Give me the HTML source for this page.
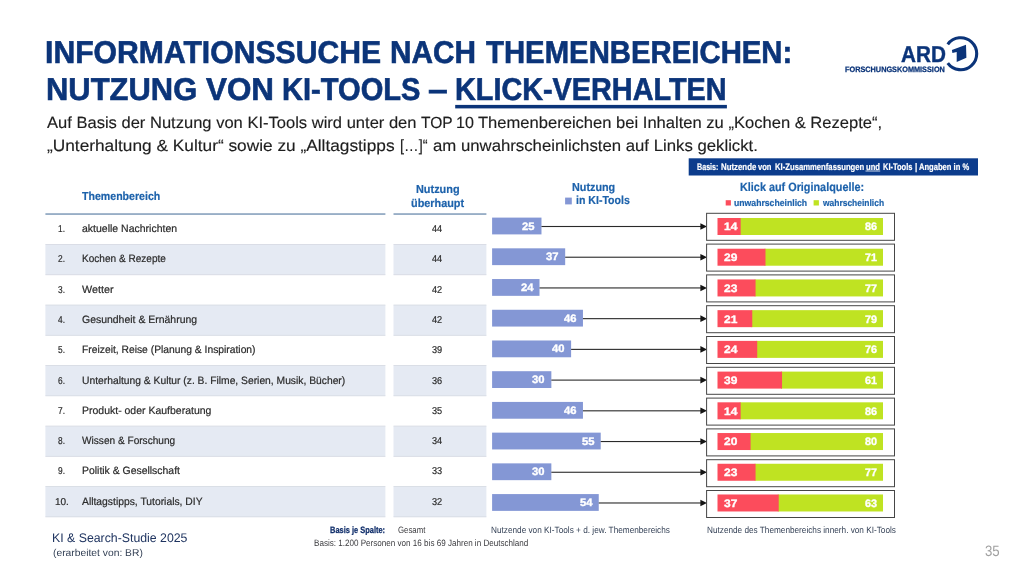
<!DOCTYPE html>
<html lang="de"><head><meta charset="utf-8"><title>Informationssuche nach Themenbereichen</title>
<style>
html,body{margin:0;padding:0;background:#fff}
body{text-rendering:geometricPrecision;width:1024px;height:576px;position:relative;overflow:hidden;font-family:"Liberation Sans",sans-serif}
.slide{position:absolute;left:0;top:0;width:1024px;height:576px}
.txt{will-change:transform}
.t{position:absolute;white-space:pre;line-height:1;transform-origin:0 0;display:block}
.ttl{-webkit-text-stroke:0.6px #0b3479}
.ard{-webkit-text-stroke:0.4px #0b3479}
.sub{-webkit-text-stroke:0.15px #1e1e1e}
.lb{-webkit-text-stroke:0.35px #fff}
.bj{-webkit-text-stroke:0.25px #112f6b}
.rw{-webkit-text-stroke:0.2px #2a2a2a}
.fk{-webkit-text-stroke:0.25px #0b3479}
.hd{-webkit-text-stroke:0.2px #1d62ab}
.bn{-webkit-text-stroke:0.2px #fff}
</style></head>
<body>
<svg class="slide" width="1024" height="576" viewBox="0 0 1024 576">
<rect x="45.40" y="244.56" width="340.00" height="30.26" fill="#e5eaf3"/>
<rect x="393.50" y="244.56" width="92.90" height="30.26" fill="#e5eaf3"/>
<rect x="45.40" y="305.08" width="340.00" height="30.26" fill="#e5eaf3"/>
<rect x="393.50" y="305.08" width="92.90" height="30.26" fill="#e5eaf3"/>
<rect x="45.40" y="365.60" width="340.00" height="30.26" fill="#e5eaf3"/>
<rect x="393.50" y="365.60" width="92.90" height="30.26" fill="#e5eaf3"/>
<rect x="45.40" y="426.12" width="340.00" height="30.26" fill="#e5eaf3"/>
<rect x="393.50" y="426.12" width="92.90" height="30.26" fill="#e5eaf3"/>
<rect x="45.40" y="486.64" width="340.00" height="30.26" fill="#e5eaf3"/>
<rect x="393.50" y="486.64" width="92.90" height="30.26" fill="#e5eaf3"/>
<rect x="45.40" y="244.11" width="340.00" height="0.80" fill="#d4d8e1"/>
<rect x="393.50" y="244.11" width="92.90" height="0.80" fill="#d4d8e1"/>
<rect x="45.40" y="274.37" width="340.00" height="0.80" fill="#d4d8e1"/>
<rect x="393.50" y="274.37" width="92.90" height="0.80" fill="#d4d8e1"/>
<rect x="45.40" y="304.63" width="340.00" height="0.80" fill="#d4d8e1"/>
<rect x="393.50" y="304.63" width="92.90" height="0.80" fill="#d4d8e1"/>
<rect x="45.40" y="334.89" width="340.00" height="0.80" fill="#d4d8e1"/>
<rect x="393.50" y="334.89" width="92.90" height="0.80" fill="#d4d8e1"/>
<rect x="45.40" y="365.15" width="340.00" height="0.80" fill="#d4d8e1"/>
<rect x="393.50" y="365.15" width="92.90" height="0.80" fill="#d4d8e1"/>
<rect x="45.40" y="395.41" width="340.00" height="0.80" fill="#d4d8e1"/>
<rect x="393.50" y="395.41" width="92.90" height="0.80" fill="#d4d8e1"/>
<rect x="45.40" y="425.67" width="340.00" height="0.80" fill="#d4d8e1"/>
<rect x="393.50" y="425.67" width="92.90" height="0.80" fill="#d4d8e1"/>
<rect x="45.40" y="455.93" width="340.00" height="0.80" fill="#d4d8e1"/>
<rect x="393.50" y="455.93" width="92.90" height="0.80" fill="#d4d8e1"/>
<rect x="45.40" y="486.19" width="340.00" height="0.80" fill="#d4d8e1"/>
<rect x="393.50" y="486.19" width="92.90" height="0.80" fill="#d4d8e1"/>
<rect x="45.40" y="516.45" width="340.00" height="0.80" fill="#d4d8e1"/>
<rect x="393.50" y="516.45" width="92.90" height="0.80" fill="#d4d8e1"/>
<rect x="492.10" y="217.60" width="49.38" height="16.80" fill="#8497d5"/>
<rect x="541.48" y="225.95" width="159.52" height="1.10" fill="#2a2a2a"/>
<polygon points="700.4,223.20 707,226.50 700.4,229.80" fill="#151515"/>
<rect x="706.60" y="213.30" width="187.90" height="27.00" fill="#fff" stroke="#464646" stroke-width="1"/>
<rect x="739.67" y="218.00" width="143.33" height="17.00" fill="#bfe322"/>
<rect x="717.50" y="218.00" width="23.17" height="17.00" fill="#fc4c5c"/>
<rect x="492.10" y="248.32" width="73.08" height="16.80" fill="#8497d5"/>
<rect x="565.18" y="256.67" width="135.82" height="1.10" fill="#2a2a2a"/>
<polygon points="700.4,253.92 707,257.22 700.4,260.52" fill="#151515"/>
<rect x="706.60" y="244.10" width="187.90" height="27.00" fill="#fff" stroke="#464646" stroke-width="1"/>
<rect x="764.50" y="248.72" width="118.50" height="17.00" fill="#bfe322"/>
<rect x="717.50" y="248.72" width="47.99" height="17.00" fill="#fc4c5c"/>
<rect x="492.10" y="279.04" width="47.40" height="16.80" fill="#8497d5"/>
<rect x="539.50" y="287.39" width="161.50" height="1.10" fill="#2a2a2a"/>
<polygon points="700.4,284.64 707,287.94 700.4,291.24" fill="#151515"/>
<rect x="706.60" y="274.90" width="187.90" height="27.00" fill="#fff" stroke="#464646" stroke-width="1"/>
<rect x="754.57" y="279.44" width="128.44" height="17.00" fill="#bfe322"/>
<rect x="717.50" y="279.44" width="38.06" height="17.00" fill="#fc4c5c"/>
<rect x="492.10" y="309.76" width="90.85" height="16.80" fill="#8497d5"/>
<rect x="582.95" y="318.11" width="118.05" height="1.10" fill="#2a2a2a"/>
<polygon points="700.4,315.36 707,318.66 700.4,321.96" fill="#151515"/>
<rect x="706.60" y="305.70" width="187.90" height="27.00" fill="#fff" stroke="#464646" stroke-width="1"/>
<rect x="751.25" y="310.16" width="131.75" height="17.00" fill="#bfe322"/>
<rect x="717.50" y="310.16" width="34.76" height="17.00" fill="#fc4c5c"/>
<rect x="492.10" y="340.48" width="79.00" height="16.80" fill="#8497d5"/>
<rect x="571.10" y="348.83" width="129.90" height="1.10" fill="#2a2a2a"/>
<polygon points="700.4,346.08 707,349.38 700.4,352.68" fill="#151515"/>
<rect x="706.60" y="336.50" width="187.90" height="27.00" fill="#fff" stroke="#464646" stroke-width="1"/>
<rect x="756.22" y="340.88" width="126.78" height="17.00" fill="#bfe322"/>
<rect x="717.50" y="340.88" width="39.72" height="17.00" fill="#fc4c5c"/>
<rect x="492.10" y="371.20" width="59.25" height="16.80" fill="#8497d5"/>
<rect x="551.35" y="379.55" width="149.65" height="1.10" fill="#2a2a2a"/>
<polygon points="700.4,376.80 707,380.10 700.4,383.40" fill="#151515"/>
<rect x="706.60" y="367.30" width="187.90" height="27.00" fill="#fff" stroke="#464646" stroke-width="1"/>
<rect x="781.04" y="371.60" width="101.95" height="17.00" fill="#bfe322"/>
<rect x="717.50" y="371.60" width="64.55" height="17.00" fill="#fc4c5c"/>
<rect x="492.10" y="401.92" width="90.85" height="16.80" fill="#8497d5"/>
<rect x="582.95" y="410.27" width="118.05" height="1.10" fill="#2a2a2a"/>
<polygon points="700.4,407.52 707,410.82 700.4,414.12" fill="#151515"/>
<rect x="706.60" y="398.10" width="187.90" height="27.00" fill="#fff" stroke="#464646" stroke-width="1"/>
<rect x="739.67" y="402.32" width="143.33" height="17.00" fill="#bfe322"/>
<rect x="717.50" y="402.32" width="23.17" height="17.00" fill="#fc4c5c"/>
<rect x="492.10" y="432.64" width="108.62" height="16.80" fill="#8497d5"/>
<rect x="600.73" y="440.99" width="100.27" height="1.10" fill="#2a2a2a"/>
<polygon points="700.4,438.24 707,441.54 700.4,444.84" fill="#151515"/>
<rect x="706.60" y="428.90" width="187.90" height="27.00" fill="#fff" stroke="#464646" stroke-width="1"/>
<rect x="749.60" y="433.04" width="133.40" height="17.00" fill="#bfe322"/>
<rect x="717.50" y="433.04" width="33.10" height="17.00" fill="#fc4c5c"/>
<rect x="492.10" y="463.36" width="59.25" height="16.80" fill="#8497d5"/>
<rect x="551.35" y="471.71" width="149.65" height="1.10" fill="#2a2a2a"/>
<polygon points="700.4,468.96 707,472.26 700.4,475.56" fill="#151515"/>
<rect x="706.60" y="459.70" width="187.90" height="27.00" fill="#fff" stroke="#464646" stroke-width="1"/>
<rect x="754.57" y="463.76" width="128.44" height="17.00" fill="#bfe322"/>
<rect x="717.50" y="463.76" width="38.06" height="17.00" fill="#fc4c5c"/>
<rect x="492.10" y="494.08" width="106.65" height="16.80" fill="#8497d5"/>
<rect x="598.75" y="502.43" width="102.25" height="1.10" fill="#2a2a2a"/>
<polygon points="700.4,499.68 707,502.98 700.4,506.28" fill="#151515"/>
<rect x="706.60" y="490.50" width="187.90" height="27.00" fill="#fff" stroke="#464646" stroke-width="1"/>
<rect x="777.74" y="494.48" width="105.27" height="17.00" fill="#bfe322"/>
<rect x="717.50" y="494.48" width="61.23" height="17.00" fill="#fc4c5c"/>
<rect x="455.20" y="104.90" width="271.70" height="3.50" fill="#0b3479"/>
<rect x="688.70" y="158.30" width="289.30" height="17.20" fill="#0c3c8c"/>
<rect x="865.50" y="170.60" width="14.70" height="0.80" fill="#ffffff"/>
<rect x="45.40" y="213.30" width="340.00" height="1.50" fill="#7f9bb8"/>
<rect x="393.50" y="213.30" width="92.90" height="1.50" fill="#7f9bb8"/>
<rect x="565.10" y="197.60" width="6.70" height="6.80" fill="#8497d5"/>
<rect x="725.70" y="200.20" width="5.20" height="5.30" fill="#fc4c5c"/>
<rect x="813.60" y="200.20" width="5.30" height="5.30" fill="#bfe322"/>
<g>
<path d="M 947.76 44.30 A 16.0 16.0 0 1 1 947.76 63.10" fill="none" stroke="#0b3479" stroke-width="3.1"/>
<path d="M 966.0 44.8 L 951.9 50.1 L 952.4 52.9 L 956.7 52.0 L 956.7 62.0 L 966.4 57.8 Z" fill="#0b3479"/>
</g>
</svg>
<div class="slide txt">
<span class="t ttl" style="left:45.09px;top:37px;font-size:31.5px;font-weight:700;color:#0b3479;transform:scaleX(0.9572)">INFORMATIONSSUCHE</span>
<span class="t ttl" style="left:390.01px;top:37px;font-size:31.5px;font-weight:700;color:#0b3479;transform:scaleX(0.9456)">NACH</span>
<span class="t ttl" style="left:485.60px;top:37px;font-size:31.5px;font-weight:700;color:#0b3479;transform:scaleX(0.9310)">THEMENBEREICHEN:</span>
<span class="t ttl" style="left:45.54px;top:74px;font-size:31.5px;font-weight:700;color:#0b3479;transform:scaleX(0.9819)">NUTZUNG</span>
<span class="t ttl" style="left:205.60px;top:74px;font-size:31.5px;font-weight:700;color:#0b3479;transform:scaleX(0.9968)">VON</span>
<span class="t ttl" style="left:281.90px;top:74px;font-size:31.5px;font-weight:700;color:#0b3479;transform:scaleX(0.9234)">KI-TOOLS</span>
<span class="t ttl" style="left:428.10px;top:74px;font-size:31.5px;font-weight:700;color:#0b3479;transform:scaleX(1.1265)">–</span>
<span class="t ttl" style="left:455.07px;top:74px;font-size:31.5px;font-weight:700;color:#0b3479;transform:scaleX(0.9146)">KLICK-VERHALTEN</span>
<span class="t sub" style="left:46.50px;top:115px;font-size:16.2px;font-weight:400;color:#1e1e1e;transform:scaleX(1.0216)">Auf Basis der Nutzung von KI-Tools wird unter den</span>
<span class="t sub" style="left:421.00px;top:115px;font-size:16.2px;font-weight:400;color:#1e1e1e;transform:scaleX(0.9600)">TOP</span>
<span class="t sub" style="left:455.91px;top:115px;font-size:16.2px;font-weight:400;color:#1e1e1e;transform:scaleX(0.9910)">10</span>
<span class="t sub" style="left:478.10px;top:115px;font-size:16.2px;font-weight:400;color:#1e1e1e;transform:scaleX(1.0231)">Themenbereichen bei Inhalten zu „Kochen &amp; Rezepte“,</span>
<span class="t sub" style="left:47.00px;top:138px;font-size:16.2px;font-weight:400;color:#1e1e1e;transform:scaleX(1.0670)">„Unterhaltung &amp; Kultur“ sowie zu „Alltagstipps</span>
<span class="t sub" style="left:399.70px;top:138px;font-size:16.2px;font-weight:400;color:#1e1e1e;transform:scaleX(0.9012)">[…]“</span>
<span class="t sub" style="left:433.10px;top:138px;font-size:16.2px;font-weight:400;color:#1e1e1e;transform:scaleX(1.0347)">am unwahrscheinlichsten auf Links geklickt.</span>
<span class="t ard" style="left:901.00px;top:43px;font-size:23px;font-weight:700;color:#0b3479;transform:scaleX(0.9000)">ARD</span>
<span class="t fk" style="left:845.00px;top:66px;font-size:7.8px;font-weight:700;color:#0b3479;transform:scaleX(0.9371)">FORSCHUNGSKOMMISSION</span>
<span class="t bn" style="left:697.25px;top:163px;font-size:9.5px;font-weight:700;color:#ffffff;transform:scaleX(0.7531)">Basis:</span>
<span class="t bn" style="left:720.90px;top:163px;font-size:9.5px;font-weight:700;color:#ffffff;transform:scaleX(0.8265)">Nutzende</span>
<span class="t bn" style="left:758.40px;top:163px;font-size:9.5px;font-weight:700;color:#ffffff;transform:scaleX(0.7960)">von</span>
<span class="t bn" style="left:774.60px;top:163px;font-size:9.5px;font-weight:700;color:#ffffff;transform:scaleX(0.8089)">KI-Zusammenfassungen</span>
<span class="t bn" style="left:865.90px;top:163px;font-size:9.5px;font-weight:700;color:#ffffff;transform:scaleX(0.8009)">und</span>
<span class="t bn" style="left:882.60px;top:163px;font-size:9.5px;font-weight:700;color:#ffffff;transform:scaleX(0.7890)">KI-Tools</span>
<span class="t bn" style="left:915.00px;top:163px;font-size:9.5px;font-weight:700;color:#ffffff;transform:scaleX(0.8500)">|</span>
<span class="t bn" style="left:919.20px;top:163px;font-size:9.5px;font-weight:700;color:#ffffff;transform:scaleX(0.7986)">Angaben in %</span>
<span class="t hd" style="left:82.10px;top:191px;font-size:11.6px;font-weight:700;color:#1d62ab;transform:scaleX(0.9135)">Themenbereich</span>
<span class="t hd" style="left:415.75px;top:184px;font-size:11.6px;font-weight:700;color:#1d62ab;transform:scaleX(0.9400)">Nutzung</span>
<span class="t hd" style="left:410.75px;top:198px;font-size:11.6px;font-weight:700;color:#1d62ab;transform:scaleX(0.9372)">überhaupt</span>
<span class="t hd" style="left:571.90px;top:182px;font-size:11.6px;font-weight:700;color:#1d62ab;transform:scaleX(0.9314)">Nutzung</span>
<span class="t hd" style="left:575.60px;top:195px;font-size:11.6px;font-weight:700;color:#1d62ab;transform:scaleX(0.9115)">in KI-Tools</span>
<span class="t hd" style="left:740.20px;top:181px;font-size:12px;font-weight:700;color:#1d62ab;transform:scaleX(0.9035)">Klick auf Originalquelle:</span>
<span class="t hd" style="left:733.60px;top:198px;font-size:9.4px;font-weight:700;color:#1d62ab;transform:scaleX(0.9238)">unwahrscheinlich</span>
<span class="t hd" style="left:822.70px;top:198px;font-size:9.4px;font-weight:700;color:#1d62ab;transform:scaleX(0.9014)">wahrscheinlich</span>
<span class="t rw" style="left:58.15px;top:225px;font-size:10px;font-weight:400;color:#2a2a2a;transform:scaleX(0.8332)">1.</span>
<span class="t rw" style="left:82.00px;top:224px;font-size:10.6px;font-weight:400;color:#2a2a2a;transform:scaleX(0.9907)">aktuelle Nachrichten</span>
<span class="t rw" style="left:432.00px;top:225px;font-size:10px;font-weight:400;color:#2a2a2a;transform:scaleX(0.9168)">44</span>
<span class="t lb" style="left:522.48px;top:222px;font-size:10.8px;font-weight:700;color:#ffffff;transform:scaleX(1.0413)">25</span>
<span class="t lb" style="left:723.90px;top:222px;font-size:10.8px;font-weight:700;color:#ffffff;transform:scaleX(1.1079)">14</span>
<span class="t lb" style="left:864.60px;top:222px;font-size:10.8px;font-weight:700;color:#ffffff;transform:scaleX(0.9996)">86</span>
<span class="t rw" style="left:58.15px;top:255px;font-size:10px;font-weight:400;color:#2a2a2a;transform:scaleX(0.8332)">2.</span>
<span class="t rw" style="left:82.00px;top:254px;font-size:10.6px;font-weight:400;color:#2a2a2a;transform:scaleX(0.9497)">Kochen &amp; Rezepte</span>
<span class="t rw" style="left:432.00px;top:255px;font-size:10px;font-weight:400;color:#2a2a2a;transform:scaleX(0.9168)">44</span>
<span class="t lb" style="left:546.18px;top:252px;font-size:10.8px;font-weight:700;color:#ffffff;transform:scaleX(1.0413)">37</span>
<span class="t lb" style="left:723.90px;top:253px;font-size:10.8px;font-weight:700;color:#ffffff;transform:scaleX(1.1079)">29</span>
<span class="t lb" style="left:864.60px;top:253px;font-size:10.8px;font-weight:700;color:#ffffff;transform:scaleX(0.9996)">71</span>
<span class="t rw" style="left:58.15px;top:286px;font-size:10px;font-weight:400;color:#2a2a2a;transform:scaleX(0.8332)">3.</span>
<span class="t rw" style="left:82.00px;top:285px;font-size:10.6px;font-weight:400;color:#2a2a2a;transform:scaleX(1.0166)">Wetter</span>
<span class="t rw" style="left:432.00px;top:286px;font-size:10px;font-weight:400;color:#2a2a2a;transform:scaleX(0.9168)">42</span>
<span class="t lb" style="left:520.50px;top:283px;font-size:10.8px;font-weight:700;color:#ffffff;transform:scaleX(1.0413)">24</span>
<span class="t lb" style="left:723.90px;top:284px;font-size:10.8px;font-weight:700;color:#ffffff;transform:scaleX(1.1079)">23</span>
<span class="t lb" style="left:864.60px;top:284px;font-size:10.8px;font-weight:700;color:#ffffff;transform:scaleX(0.9996)">77</span>
<span class="t rw" style="left:58.15px;top:316px;font-size:10px;font-weight:400;color:#2a2a2a;transform:scaleX(0.8332)">4.</span>
<span class="t rw" style="left:82.00px;top:315px;font-size:10.6px;font-weight:400;color:#2a2a2a;transform:scaleX(0.9870)">Gesundheit &amp; Ernährung</span>
<span class="t rw" style="left:432.00px;top:316px;font-size:10px;font-weight:400;color:#2a2a2a;transform:scaleX(0.9168)">42</span>
<span class="t lb" style="left:563.95px;top:314px;font-size:10.8px;font-weight:700;color:#ffffff;transform:scaleX(1.0413)">46</span>
<span class="t lb" style="left:723.90px;top:315px;font-size:10.8px;font-weight:700;color:#ffffff;transform:scaleX(1.1079)">21</span>
<span class="t lb" style="left:864.60px;top:315px;font-size:10.8px;font-weight:700;color:#ffffff;transform:scaleX(0.9996)">79</span>
<span class="t rw" style="left:58.15px;top:346px;font-size:10px;font-weight:400;color:#2a2a2a;transform:scaleX(0.8332)">5.</span>
<span class="t rw" style="left:82.00px;top:345px;font-size:10.6px;font-weight:400;color:#2a2a2a;transform:scaleX(0.9726)">Freizeit, Reise (Planung &amp; Inspiration)</span>
<span class="t rw" style="left:432.00px;top:346px;font-size:10px;font-weight:400;color:#2a2a2a;transform:scaleX(0.9168)">39</span>
<span class="t lb" style="left:552.10px;top:344px;font-size:10.8px;font-weight:700;color:#ffffff;transform:scaleX(1.0413)">40</span>
<span class="t lb" style="left:723.90px;top:345px;font-size:10.8px;font-weight:700;color:#ffffff;transform:scaleX(1.1079)">24</span>
<span class="t lb" style="left:864.60px;top:345px;font-size:10.8px;font-weight:700;color:#ffffff;transform:scaleX(0.9996)">76</span>
<span class="t rw" style="left:58.15px;top:377px;font-size:10px;font-weight:400;color:#2a2a2a;transform:scaleX(0.8332)">6.</span>
<span class="t rw" style="left:82.00px;top:376px;font-size:10.6px;font-weight:400;color:#2a2a2a;transform:scaleX(0.9719)">Unterhaltung &amp; Kultur (z. B. Filme, Serien, Musik, Bücher)</span>
<span class="t rw" style="left:432.00px;top:377px;font-size:10px;font-weight:400;color:#2a2a2a;transform:scaleX(0.9168)">36</span>
<span class="t lb" style="left:532.35px;top:375px;font-size:10.8px;font-weight:700;color:#ffffff;transform:scaleX(1.0413)">30</span>
<span class="t lb" style="left:723.90px;top:376px;font-size:10.8px;font-weight:700;color:#ffffff;transform:scaleX(1.1079)">39</span>
<span class="t lb" style="left:864.60px;top:376px;font-size:10.8px;font-weight:700;color:#ffffff;transform:scaleX(0.9996)">61</span>
<span class="t rw" style="left:58.15px;top:407px;font-size:10px;font-weight:400;color:#2a2a2a;transform:scaleX(0.8332)">7.</span>
<span class="t rw" style="left:82.00px;top:406px;font-size:10.6px;font-weight:400;color:#2a2a2a;transform:scaleX(0.9897)">Produkt- oder Kaufberatung</span>
<span class="t rw" style="left:432.00px;top:407px;font-size:10px;font-weight:400;color:#2a2a2a;transform:scaleX(0.9168)">35</span>
<span class="t lb" style="left:563.95px;top:406px;font-size:10.8px;font-weight:700;color:#ffffff;transform:scaleX(1.0413)">46</span>
<span class="t lb" style="left:723.90px;top:407px;font-size:10.8px;font-weight:700;color:#ffffff;transform:scaleX(1.1079)">14</span>
<span class="t lb" style="left:864.60px;top:407px;font-size:10.8px;font-weight:700;color:#ffffff;transform:scaleX(0.9996)">86</span>
<span class="t rw" style="left:58.15px;top:437px;font-size:10px;font-weight:400;color:#2a2a2a;transform:scaleX(0.8332)">8.</span>
<span class="t rw" style="left:82.00px;top:436px;font-size:10.6px;font-weight:400;color:#2a2a2a;transform:scaleX(0.9536)">Wissen &amp; Forschung</span>
<span class="t rw" style="left:432.00px;top:437px;font-size:10px;font-weight:400;color:#2a2a2a;transform:scaleX(0.9168)">34</span>
<span class="t lb" style="left:581.73px;top:437px;font-size:10.8px;font-weight:700;color:#ffffff;transform:scaleX(1.0413)">55</span>
<span class="t lb" style="left:723.90px;top:437px;font-size:10.8px;font-weight:700;color:#ffffff;transform:scaleX(1.1079)">20</span>
<span class="t lb" style="left:864.60px;top:437px;font-size:10.8px;font-weight:700;color:#ffffff;transform:scaleX(0.9996)">80</span>
<span class="t rw" style="left:58.15px;top:467px;font-size:10px;font-weight:400;color:#2a2a2a;transform:scaleX(0.8332)">9.</span>
<span class="t rw" style="left:82.00px;top:466px;font-size:10.6px;font-weight:400;color:#2a2a2a;transform:scaleX(0.9843)">Politik &amp; Gesellschaft</span>
<span class="t rw" style="left:432.00px;top:467px;font-size:10px;font-weight:400;color:#2a2a2a;transform:scaleX(0.9168)">33</span>
<span class="t lb" style="left:532.35px;top:467px;font-size:10.8px;font-weight:700;color:#ffffff;transform:scaleX(1.0413)">30</span>
<span class="t lb" style="left:723.90px;top:468px;font-size:10.8px;font-weight:700;color:#ffffff;transform:scaleX(1.1079)">23</span>
<span class="t lb" style="left:864.60px;top:468px;font-size:10.8px;font-weight:700;color:#ffffff;transform:scaleX(0.9996)">77</span>
<span class="t rw" style="left:55.35px;top:498px;font-size:10px;font-weight:400;color:#2a2a2a;transform:scaleX(0.9982)">10.</span>
<span class="t rw" style="left:82.00px;top:497px;font-size:10.6px;font-weight:400;color:#2a2a2a;transform:scaleX(0.9751)">Alltagstipps, Tutorials, DIY</span>
<span class="t rw" style="left:432.00px;top:498px;font-size:10px;font-weight:400;color:#2a2a2a;transform:scaleX(0.9168)">32</span>
<span class="t lb" style="left:579.75px;top:498px;font-size:10.8px;font-weight:700;color:#ffffff;transform:scaleX(1.0413)">54</span>
<span class="t lb" style="left:723.90px;top:499px;font-size:10.8px;font-weight:700;color:#ffffff;transform:scaleX(1.1079)">37</span>
<span class="t lb" style="left:864.60px;top:499px;font-size:10.8px;font-weight:700;color:#ffffff;transform:scaleX(0.9996)">63</span>
<span class="t" style="left:52.02px;top:532px;font-size:12.5px;font-weight:400;color:#1f3460;transform:scaleX(0.9844)">KI &amp; Search-Studie 2025</span>
<span class="t" style="left:53.00px;top:549px;font-size:10px;font-weight:400;color:#344156;transform:scaleX(1.0296)">(erarbeitet von: BR)</span>
<span class="t bj" style="left:329.50px;top:526px;font-size:9.2px;font-weight:700;color:#112f6b;transform:scaleX(0.8105)">Basis je Spalte:</span>
<span class="t" style="left:398.00px;top:526px;font-size:9.2px;font-weight:400;color:#3a3a3e;transform:scaleX(0.8509)">Gesamt</span>
<span class="t" style="left:490.75px;top:526px;font-size:9.2px;font-weight:400;color:#344156;transform:scaleX(0.8955)">Nutzende von KI-Tools + d. jew. Themenbereichs</span>
<span class="t" style="left:706.75px;top:526px;font-size:9.2px;font-weight:400;color:#344156;transform:scaleX(0.8941)">Nutzende des Themenbereichs innerh. von KI-Tools</span>
<span class="t" style="left:313.75px;top:539px;font-size:9.2px;font-weight:400;color:#3a3a3e;transform:scaleX(0.8798)">Basis: 1.200 Personen von 16 bis 69 Jahren in Deutschland</span>
<span class="t" style="left:985.00px;top:544px;font-size:15px;font-weight:400;color:#a0a0a0;transform:scaleX(0.8811)">35</span>
</div>
</body></html>
